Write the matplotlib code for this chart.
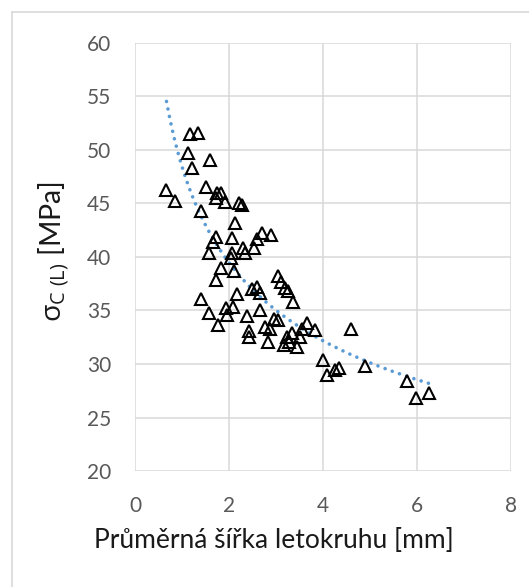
import numpy as np
import matplotlib
matplotlib.use("Agg")
import matplotlib.pyplot as plt
from matplotlib.lines import Line2D

# ---- data ----
width_mm = [1.17, 1.33, 1.12, 1.60, 1.22, 0.67, 0.85, 1.52, 1.74, 1.84, 1.72, 1.92,
            2.22, 2.27, 1.40, 2.13, 1.72, 2.06, 1.65, 2.71, 2.90, 2.59, 2.29, 2.34,
            2.54, 1.57, 2.06, 2.04,
            1.84, 2.11, 1.72, 3.05, 3.10, 2.48, 2.60, 2.66, 3.19, 3.25, 2.16, 1.40,
            3.37, 1.57, 1.94, 2.08, 1.95, 1.76, 2.38, 2.65, 2.96, 3.05, 3.67, 3.83,
            3.55, 2.77, 2.87, 2.43, 2.43, 2.84, 3.33, 3.23, 3.51, 3.28, 3.17, 3.44,
            3.99, 4.08,
            4.60, 4.33, 4.26, 4.89, 5.78, 5.98, 6.26]
sigma_mpa = [51.45, 51.6, 49.7, 49.1, 48.3, 46.3, 45.2, 46.5, 46.0, 45.95, 45.5, 45.1,
             45.0, 44.9, 44.3, 43.15, 41.9, 41.75, 41.4, 42.2, 42.05, 41.7, 40.8, 40.4,
             40.8, 40.35, 40.35, 39.95,
             39.0, 38.7, 37.85, 38.2, 37.7, 37.0, 37.2, 36.6, 37.1, 36.8, 36.55, 36.05,
             35.8, 34.75, 35.2, 35.3, 34.6, 33.65, 34.5, 35.0, 34.2, 34.1, 33.85, 33.2,
             33.3, 33.5, 33.3, 33.1, 32.5, 32.1, 32.9, 32.5, 32.55, 32.1, 31.8, 31.6,
             30.4, 29.0,
             33.25, 29.65, 29.45, 29.85, 28.4, 26.85, 27.3]
x_ticks = [0, 2, 4, 6, 8]
y_ticks = [20, 25, 30, 35, 40, 45, 50, 55, 60]
x_label = "Průměrná šířka letokruhu [mm]"
y_label = r"$\mathrm{σ_{C\ (L)}}$ [MPa]"

plt.rcParams['font.family'] = ['Lato', 'Open Sans', 'DejaVu Sans']
plt.rcParams['mathtext.fontset'] = 'custom'
plt.rcParams['mathtext.rm'] = 'Open Sans'
plt.rcParams['mathtext.it'] = 'Open Sans:italic'

W, H = 529, 587
fig = plt.figure(figsize=(W / 100, H / 100), dpi=100)
ax = fig.add_axes([135 / W, 1 - 471 / H, (511 - 135) / W, (471 - 43) / H])

x = np.array(width_mm)
y = np.array(sigma_mpa)

# power trendline (Excel style) fitted to the data
b, lna = np.polyfit(np.log(x), np.log(y), 1)
xt = np.linspace(x.min(), x.max(), 200)
yt = np.exp(lna) * xt ** b
ax.plot(xt, yt, color='#5B9BD5', linewidth=2.6,
        linestyle=(0, (0.01, 2.1)), dash_capstyle='round', zorder=2)

ax.plot(x, y, linestyle='none', marker='^', markersize=8.5,
        markerfacecolor='none', markeredgecolor='black', markeredgewidth=1.5, zorder=3)

ax.set_xlim(0, 8)
ax.set_ylim(20, 60)
ax.set_xticks(x_ticks)
ax.set_yticks(y_ticks)
ax.grid(True, color='#D9D9D9', linewidth=1.1)
ax.set_axisbelow(True)
for s in ax.spines.values():
    s.set_visible(False)
ax.tick_params(axis='both', length=0, labelsize=15, labelcolor='#595959')
ax.tick_params(axis='y', pad=17)
ax.tick_params(axis='x', pad=18)

fig.text(274 / W, 1 - 540 / H, x_label, fontsize=19, color='#1a1a1a',
         ha='center', va='center')
fig.text(54 / W, 1 - 252 / H, y_label, fontsize=20.5, color='#1a1a1a',
         ha='center', va='center', rotation=90)

# outer chart border
fig.add_artist(Line2D([12 / W, 12 / W], [0, 1 - 12 / H], transform=fig.transFigure,
                      color='#D9D9D9', linewidth=1.2))
fig.add_artist(Line2D([12 / W, 1], [1 - 12 / H, 1 - 12 / H], transform=fig.transFigure,
                      color='#D9D9D9', linewidth=1.2))

fig.savefig('out.png', dpi=100)
